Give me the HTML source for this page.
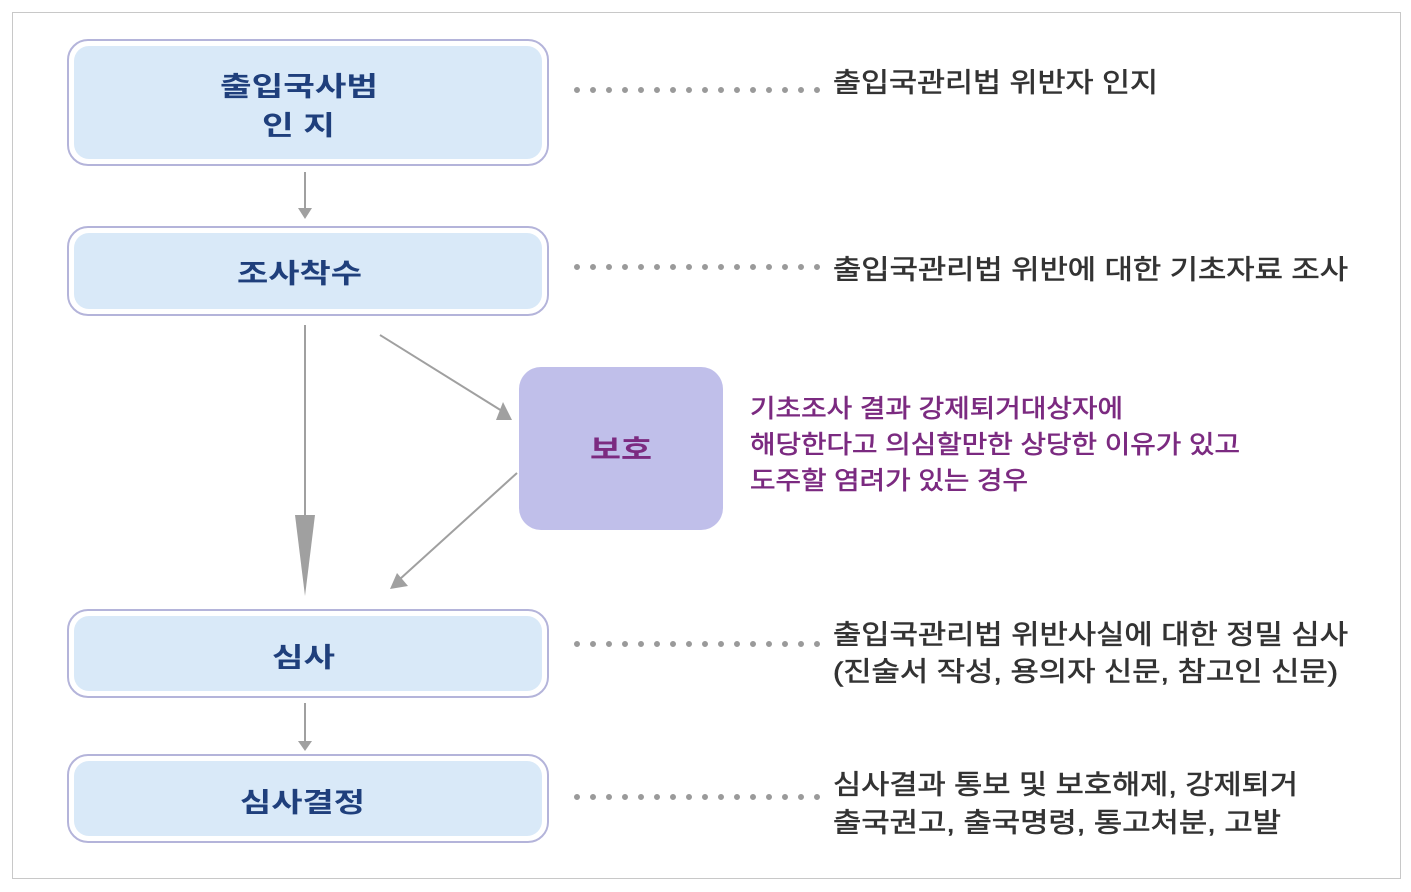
<!DOCTYPE html>
<html><head><meta charset="utf-8"><style>
html,body{margin:0;padding:0;background:#fff}
svg{display:block}
text{font-family:"Liberation Sans","Noto Sans CJK KR",sans-serif}
.b{font-weight:bold;fill:#1f3f7c;font-size:27px}
.r{fill:#333;font-size:27px;stroke:#333;stroke-width:0.6}
.p{fill:#7b2a80;font-size:25px;stroke:#7b2a80;stroke-width:0.6}
</style></head><body>
<svg width="1411" height="892" viewBox="0 0 1411 892" xmlns="http://www.w3.org/2000/svg">
<rect x="12.5" y="12.5" width="1388" height="866" fill="#fff" stroke="#c8c8c8" stroke-width="1"/>
<g stroke="#b4b4da" stroke-width="2" fill="#fff">
<rect x="68" y="40" width="480" height="125" rx="20"/>
<rect x="68" y="227" width="480" height="88" rx="20"/>
<rect x="68" y="610" width="480" height="87" rx="20"/>
<rect x="68" y="755" width="480" height="87" rx="20"/>
</g>
<g fill="#d9e9f8">
<rect x="74" y="46" width="468" height="113" rx="15"/>
<rect x="74" y="233" width="468" height="76" rx="15"/>
<rect x="74" y="616" width="468" height="75" rx="15"/>
<rect x="74" y="761" width="468" height="75" rx="15"/>
</g>
<rect x="519" y="367" width="204" height="163" rx="22" fill="#c0bfea"/>
<g stroke="#a0a0a0" stroke-width="2" fill="none">
<line x1="305" y1="172" x2="305" y2="208"/>
<line x1="305" y1="703" x2="305" y2="742"/>
<line x1="305" y1="325" x2="305" y2="520"/>
<line x1="380" y1="335" x2="502" y2="411"/>
<line x1="517" y1="473" x2="400" y2="579"/>
</g>
<g fill="#a0a0a0">
<polygon points="298,208 312,208 305,219"/>
<polygon points="298,741 312,741 305,751"/>
<polygon points="295,515 315,515 305,596"/>
<polygon points="496,420 512,420 503,402"/>
<polygon points="390,589 408,586 397,573"/>
</g>
<g stroke="#9a9a9a" stroke-width="6" stroke-linecap="round" stroke-dasharray="0 16">
<line x1="577" y1="90" x2="820" y2="90"/>
<line x1="577" y1="267" x2="820" y2="267"/>
<line x1="577" y1="644" x2="820" y2="644"/>
<line x1="577" y1="797" x2="820" y2="797"/>
</g>
<text class="b" x="220" y="96" textLength="158" lengthAdjust="spacingAndGlyphs">출입국사범</text>
<text class="b" x="262" y="135" textLength="73" lengthAdjust="spacingAndGlyphs">인 지</text>
<text class="b" x="237" y="283" textLength="125" lengthAdjust="spacingAndGlyphs">조사착수</text>
<text class="b" x="272" y="667" textLength="63" lengthAdjust="spacingAndGlyphs">심사</text>
<text class="b" x="240" y="812" textLength="125" lengthAdjust="spacingAndGlyphs">심사결정</text>
<text class="b" style="fill:#7b2a80" x="590" y="459" textLength="62" lengthAdjust="spacingAndGlyphs">보호</text>
<text class="r" x="833" y="92" textLength="325" lengthAdjust="spacingAndGlyphs">출입국관리법 위반자 인지</text>
<text class="r" x="833" y="279" textLength="515" lengthAdjust="spacingAndGlyphs">출입국관리법 위반에 대한 기초자료 조사</text>
<text class="r" x="833" y="644" textLength="515" lengthAdjust="spacingAndGlyphs">출입국관리법 위반사실에 대한 정밀 심사</text>
<text class="r" x="833" y="681" textLength="505" lengthAdjust="spacingAndGlyphs">(진술서 작성, 용의자 신문, 참고인 신문)</text>
<text class="r" x="833" y="794" textLength="465" lengthAdjust="spacingAndGlyphs">심사결과 통보 및 보호해제, 강제퇴거</text>
<text class="r" x="833" y="832" textLength="448" lengthAdjust="spacingAndGlyphs">출국권고, 출국명령, 통고처분, 고발</text>
<text class="p" x="750" y="417" textLength="373" lengthAdjust="spacingAndGlyphs">기초조사 결과 강제퇴거대상자에</text>
<text class="p" x="750" y="453" textLength="490" lengthAdjust="spacingAndGlyphs">해당한다고 의심할만한 상당한 이유가 있고</text>
<text class="p" x="750" y="489" textLength="278" lengthAdjust="spacingAndGlyphs">도주할 염려가 있는 경우</text>
</svg>
</body></html>
